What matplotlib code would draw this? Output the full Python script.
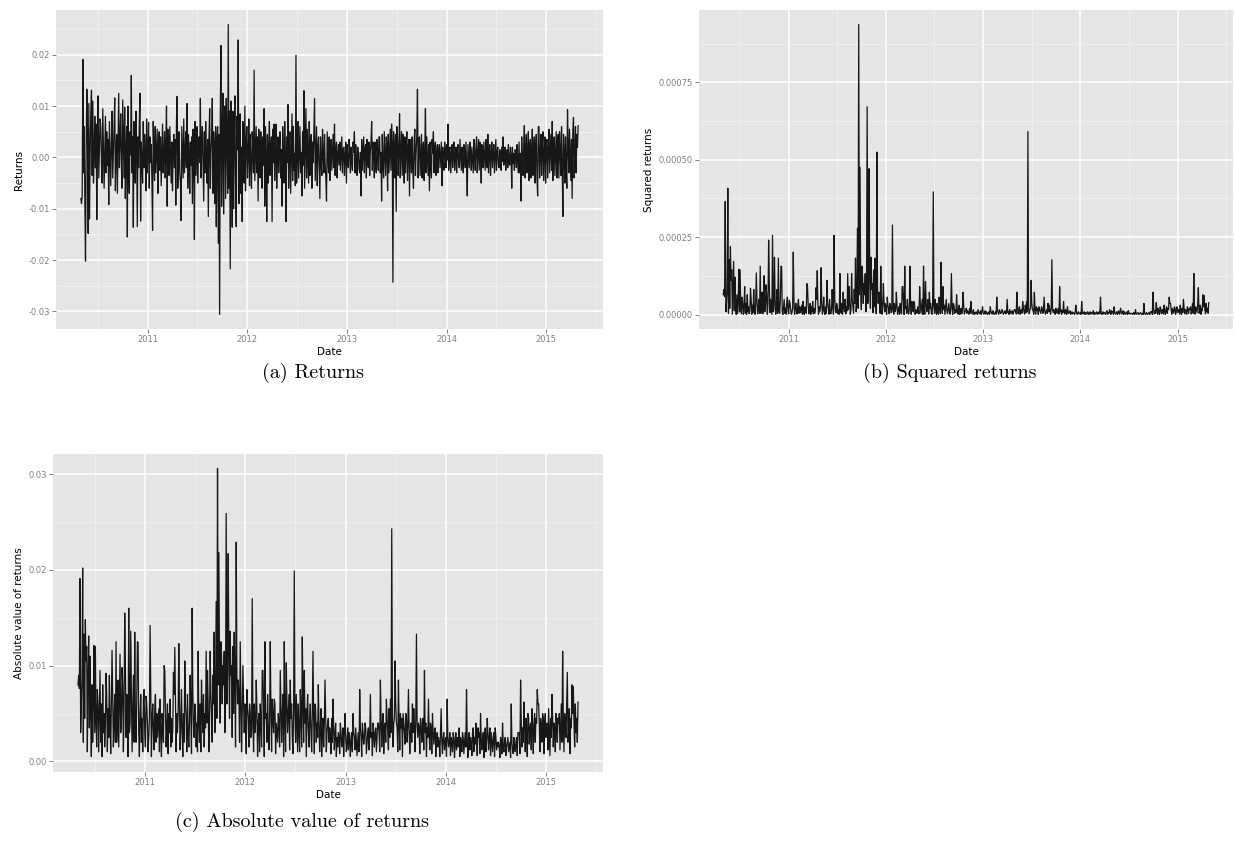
import matplotlib
matplotlib.use("Agg")
import matplotlib.pyplot as plt
import numpy as np
import pandas as pd

plt.rcParams['axes.unicode_minus'] = False

# ---- data: daily returns (approximate, ~3 per week) ----
start_date = "2010-05-01"
end_date = "2015-04-28"

returns = [
    -0.0080, -0.0090, -0.0076, 0.0191, -0.0030, 0.0060, -0.0085, -0.0202, 0.0020, 0.0133, 0.0045, -0.0148, 0.0105, -0.0120, 0.0010, 0.0090, 0.0131, -0.0035, 0.0110, -0.0050, 0.0005, 0.0080, -0.0020, 0.0065, -0.0121, 0.0030, 0.0120, -0.0040, 0.0015, 0.0075,
    0.0060, -0.0010, -0.0050, 0.0095, 0.0020, -0.0060, 0.0005, 0.0080, -0.0030, 0.0050, -0.0015, 0.0035, -0.0092, 0.0070, 0.0010, -0.0055, 0.0025, 0.0090, -0.0040, 0.0008, 0.0060, 0.0116, -0.0065, 0.0015, 0.0045, -0.0070, 0.0020, 0.0125, -0.0020, 0.0040,
    0.0085, -0.0015, -0.0060, 0.0112, 0.0030, -0.0040, 0.0098, -0.0080, 0.0010, 0.0060, -0.0155, 0.0100, -0.0025, -0.0070, 0.0050, 0.0005, 0.0160, -0.0030, 0.0040, -0.0136, 0.0070, -0.0010, -0.0050, 0.0090, 0.0020, -0.0135, 0.0040, -0.0020, 0.0065, 0.0125,
    -0.0124, 0.0030, -0.0005, -0.0050, 0.0070, -0.0020, 0.0045, 0.0010, -0.0065, 0.0075, -0.0030, 0.0015, 0.0068, -0.0060, 0.0040, -0.0010, 0.0025, -0.0045, -0.0142, 0.0070, 0.0005, -0.0045, 0.0060, -0.0030, 0.0012, 0.0055, -0.0070, 0.0020, 0.0050, -0.0025,
    0.0040, -0.0055, 0.0010, 0.0065, -0.0030, 0.0005, 0.0050, -0.0040, 0.0020, 0.0100, -0.0095, 0.0055, -0.0015, -0.0035, 0.0060, 0.0008, -0.0050, 0.0030, -0.0065, 0.0015, 0.0045, -0.0020, 0.0035, -0.0093, 0.0070, 0.0119, -0.0060, 0.0010, 0.0050, -0.0030,
    -0.0050, -0.0123, 0.0060, 0.0012, -0.0040, 0.0075, -0.0030, 0.0005, 0.0050, -0.0020, 0.0105, -0.0060, 0.0045, 0.0010, -0.0070, 0.0030, -0.0015, 0.0040, -0.0090, 0.0055, 0.0008, -0.0160, 0.0070, -0.0035, 0.0025, 0.0060, -0.0050, 0.0015, 0.0040, -0.0010,
    0.0115, -0.0040, 0.0020, 0.0060, -0.0010, -0.0085, 0.0050, -0.0030, 0.0070, 0.0015, -0.0050, 0.0035, -0.0115, 0.0040, 0.0095, -0.0060, 0.0010, 0.0040, 0.0115, -0.0070, 0.0050, 0.0020, -0.0090, 0.0060, -0.0135, 0.0030, 0.0060, -0.0167, 0.0045, -0.0306,
    0.0080, 0.0218, -0.0095, 0.0040, 0.0125, -0.0110, 0.0060, 0.0100, -0.0080, 0.0115, 0.0030, -0.0070, 0.0259, -0.0060, 0.0090, -0.0217, 0.0110, 0.0045, -0.0136, 0.0090, -0.0100, 0.0025, 0.0120, -0.0050, -0.0135, 0.0080, 0.0015, 0.0229, -0.0090, 0.0060,
    0.0085, -0.0070, 0.0020, -0.0125, 0.0070, -0.0010, -0.0050, 0.0100, -0.0065, 0.0030, 0.0060, -0.0040, 0.0008, 0.0075, -0.0055, 0.0045, -0.0015, -0.0060, 0.0050, 0.0025, -0.0030, 0.0170, -0.0045, 0.0010, 0.0060, -0.0030, 0.0040, -0.0085, 0.0055, -0.0005,
    -0.0040, 0.0050, 0.0010, -0.0060, 0.0040, -0.0015, 0.0095, -0.0095, 0.0060, 0.0005, -0.0125, 0.0045, -0.0050, 0.0020, 0.0070, -0.0035, 0.0012, 0.0040, -0.0125, 0.0055, -0.0010, 0.0065, -0.0045, 0.0030, 0.0065, -0.0060, 0.0008, 0.0040, -0.0030, 0.0020,
    0.0050, -0.0040, 0.0015, -0.0095, 0.0060, -0.0020, -0.0050, 0.0070, 0.0005, -0.0125, 0.0040, -0.0010, 0.0103, -0.0060, 0.0030, 0.0050, -0.0070, 0.0012, 0.0085, -0.0045, 0.0060, -0.0025, 0.0008, -0.0055, 0.0199, -0.0050, 0.0020, 0.0070, -0.0040, 0.0010,
    0.0060, -0.0030, 0.0010, -0.0075, 0.0050, -0.0015, 0.0130, -0.0060, 0.0020, 0.0095, -0.0040, 0.0055, 0.0005, -0.0050, 0.0070, -0.0035, 0.0015, 0.0045, -0.0060, 0.0030, -0.0010, 0.0050, 0.0115, -0.0045, 0.0008, 0.0060, -0.0055, 0.0020, 0.0040, -0.0025,
    -0.0080, 0.0040, -0.0010, -0.0035, 0.0055, 0.0005, -0.0030, 0.0045, -0.0015, -0.0040, -0.0085, 0.0050, 0.0010, -0.0030, 0.0040, -0.0045, 0.0020, 0.0035, -0.0025, 0.0008, 0.0045, -0.0020, 0.0065, -0.0035, 0.0012, 0.0030, -0.0040, 0.0005, 0.0025, -0.0015,
    0.0030, -0.0025, 0.0008, 0.0040, -0.0030, 0.0015, 0.0020, -0.0035, 0.0005, 0.0030, -0.0050, 0.0025, -0.0010, -0.0020, 0.0035, 0.0012, -0.0030, 0.0020, -0.0005, -0.0025, 0.0030, 0.0010, 0.0050, -0.0030, 0.0025, -0.0012, -0.0035, 0.0020, 0.0006, -0.0022,
    -0.0030, 0.0010, -0.0075, 0.0035, -0.0025, 0.0005, 0.0040, -0.0030, 0.0018, 0.0025, -0.0040, 0.0035, -0.0008, -0.0020, 0.0030, -0.0035, 0.0012, 0.0028, 0.0070, -0.0025, 0.0030, 0.0006, -0.0040, 0.0030, -0.0015, -0.0030, 0.0035, 0.0010, -0.0025, 0.0040,
    0.0040, -0.0030, 0.0010, -0.0085, 0.0045, -0.0015, -0.0040, 0.0050, 0.0008, -0.0035, 0.0040, 0.0020, -0.0065, 0.0045, -0.0030, 0.0012, 0.0055, -0.0025, 0.0065, 0.0030, -0.0243, 0.0050, 0.0015, -0.0040, 0.0045, -0.0105, 0.0060, 0.0040, -0.0035, 0.0010,
    0.0085, -0.0040, 0.0012, 0.0050, -0.0035, 0.0045, 0.0005, -0.0050, 0.0040, -0.0030, 0.0018, 0.0050, -0.0045, 0.0020, 0.0035, -0.0075, 0.0035, 0.0008, -0.0030, 0.0040, -0.0020, -0.0060, 0.0030, 0.0055, -0.0035, 0.0010, 0.0045, 0.0133, -0.0040, 0.0025,
    0.0040, -0.0035, 0.0008, 0.0045, -0.0040, 0.0020, 0.0030, -0.0045, 0.0012, 0.0095, -0.0030, 0.0040, 0.0005, -0.0035, 0.0025, -0.0065, 0.0030, -0.0012, -0.0040, 0.0035, 0.0008, 0.0050, -0.0030, 0.0018, 0.0030, -0.0035, 0.0005, 0.0025, -0.0030, 0.0015,
    0.0025, -0.0020, 0.0005, 0.0030, -0.0055, 0.0020, -0.0008, -0.0025, 0.0030, 0.0012, -0.0020, 0.0025, -0.0005, 0.0065, -0.0025, 0.0015, 0.0020, -0.0030, 0.0006, 0.0025, -0.0020, 0.0010, 0.0030, -0.0025, 0.0004, 0.0020, -0.0030, 0.0012, 0.0025, -0.0015,
    -0.0020, 0.0035, 0.0005, -0.0025, 0.0020, -0.0010, -0.0030, 0.0025, 0.0008, -0.0020, 0.0030, -0.0015, -0.0075, 0.0025, 0.0004, -0.0020, 0.0030, 0.0012, -0.0025, 0.0020, -0.0006, -0.0030, 0.0035, 0.0010, -0.0025, 0.0018, 0.0040, -0.0030, 0.0006, 0.0035,
    -0.0025, 0.0030, 0.0008, -0.0050, 0.0025, -0.0012, -0.0020, 0.0030, 0.0004, -0.0025, 0.0035, -0.0010, -0.0020, 0.0045, -0.0030, 0.0012, 0.0025, -0.0035, 0.0006, 0.0030, -0.0020, 0.0010, 0.0025, -0.0030, 0.0005, 0.0035, -0.0025, 0.0012, 0.0020, -0.0015,
    -0.0020, 0.0015, 0.0004, -0.0025, 0.0020, -0.0008, 0.0040, -0.0015, 0.0010, 0.0020, -0.0025, 0.0006, 0.0015, -0.0020, 0.0025, -0.0010, -0.0015, 0.0020, 0.0004, -0.0060, 0.0020, -0.0012, 0.0008, -0.0025, 0.0015, 0.0010, -0.0020, 0.0025, -0.0006, -0.0030,
    0.0030, -0.0030, 0.0008, -0.0085, 0.0040, -0.0015, -0.0035, 0.0020, 0.0062, -0.0040, 0.0010, 0.0045, -0.0030, 0.0005, 0.0050, -0.0045, 0.0018, 0.0035, -0.0040, 0.0012, 0.0055, -0.0035, 0.0008, 0.0040, -0.0050, 0.0020, 0.0045, -0.0040, -0.0075, 0.0060,
    0.0060, -0.0040, 0.0010, 0.0045, -0.0035, 0.0020, 0.0050, -0.0045, 0.0008, 0.0040, -0.0050, 0.0025, 0.0035, -0.0040, 0.0012, 0.0055, -0.0030, 0.0006, 0.0045, -0.0025, 0.0070, -0.0045, 0.0015, 0.0040, -0.0035, 0.0010, 0.0050, -0.0040, 0.0020, 0.0045,
    -0.0040, 0.0050, 0.0012, -0.0035, 0.0060, -0.0020, -0.0115, 0.0045, 0.0010, -0.0050, 0.0040, -0.0025, -0.0060, 0.0093, 0.0020, -0.0030, 0.0055, 0.0008, -0.0045, 0.0035, -0.0080, 0.0050, 0.0078, -0.0040, 0.0015, 0.0060, -0.0030, 0.0045, 0.0020, 0.0062,
]

year_labels = ["2011", "2012", "2013", "2014", "2015"]
ret_ticks = [-0.03, -0.02, -0.01, 0.00, 0.01, 0.02]
ret_labels = ["-0.03", "-0.02", "-0.01", "0.00", "0.01", "0.02"]
sq_ticks = [0.0, 0.00025, 0.0005, 0.00075]
sq_labels = ["0.00000", "0.00025", "0.00050", "0.00075"]
abs_ticks = [0.0, 0.01, 0.02, 0.03]
abs_labels = ["0.00", "0.01", "0.02", "0.03"]

captions = ["(a) Returns", "(b) Squared returns", "(c) Absolute value of returns"]
y_titles = ["Returns", "Squared returns", "Absolute value of returns"]
x_title = "Date"

# ---- derived series ----
r = np.array(returns)
dates = pd.date_range(start_date, end_date, periods=len(r))
series = [r, r ** 2, np.abs(r)]

W, H = 1235, 857
fig = plt.figure(figsize=(W / 100, H / 100), dpi=100)

def frac(l, t, r_, b):
    return [l / W, 1 - b / H, (r_ - l) / W, (b - t) / H]

axes_px = [(56, 10, 603, 329), (699, 10, 1233, 329), (53, 454, 603, 772)]
ytick_sets = [(ret_ticks, ret_labels), (sq_ticks, sq_labels), (abs_ticks, abs_labels)]

grey50 = "#7F7F7F"
major_years = [pd.Timestamp(f"{y}-01-01") for y in year_labels]
minor_years = [pd.Timestamp(f"{y}-07-02") for y in range(2010, 2016)]

for i in range(3):
    ax = fig.add_axes(frac(*axes_px[i]))
    ax.plot(dates, series[i], color="black", lw=0.9, alpha=0.9)
    ax.margins(x=0.05, y=0.05)
    ax.set_facecolor("#E5E5E5")
    for s in ax.spines.values():
        s.set_visible(False)
    ticks, labels = ytick_sets[i]
    ax.set_yticks(ticks)
    ax.set_yticklabels(labels)
    yl = ax.get_ylim()
    step = ticks[1] - ticks[0]
    yminor = [t + step / 2 for t in [ticks[0] - step] + ticks]
    yminor = [v for v in yminor if yl[0] <= v <= yl[1]]
    ax.set_yticks(yminor, minor=True)
    ax.set_ylim(yl)
    xl = ax.get_xlim()
    ax.set_xticks(major_years)
    ax.set_xticklabels(year_labels)
    ax.set_xticks(minor_years, minor=True)
    ax.set_xlim(xl)
    ax.grid(which="major", color="white", lw=1.1)
    ax.grid(which="minor", color="#F2F2F2", lw=0.55)
    ax.set_axisbelow(True)
    ax.tick_params(which="major", length=3, width=0.7, color=grey50,
                   labelcolor=grey50, labelsize=6, pad=1.5)
    ax.tick_params(which="minor", length=0)
    ax.set_xlabel(x_title, fontsize=7.5, labelpad=2)
    ax.set_ylabel(y_titles[i], fontsize=7.5, labelpad=3)

cap_font = dict(family="cmr10", fontsize=14.5, ha="center", va="center")
fig.text(313 / W, 1 - 373 / H, captions[0], **cap_font)
fig.text(950 / W, 1 - 373 / H, captions[1], **cap_font)
fig.text(302 / W, 1 - 822 / H, captions[2], **cap_font)

fig.savefig("out.png", dpi=100)
